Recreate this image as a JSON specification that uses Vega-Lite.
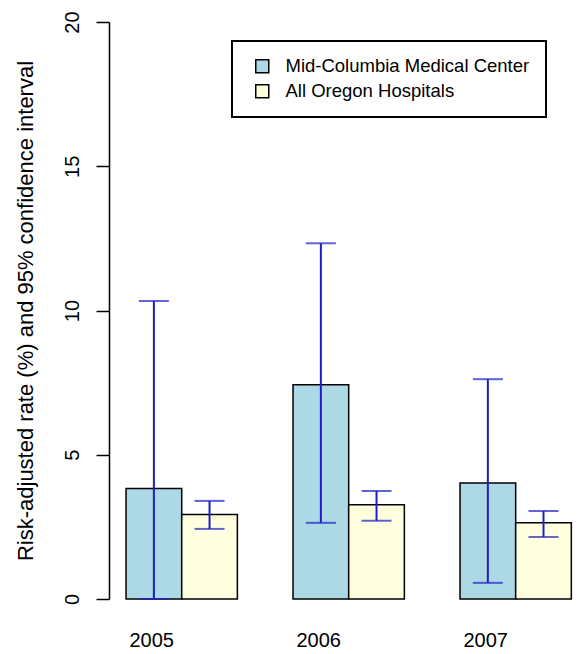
{
  "$schema": "https://vega.github.io/schema/vega-lite/v6.json",
  "width": 470,
  "height": 577,
  "autosize": "none",
  "padding": {"left": 109, "top": 22, "right": 0, "bottom": 55},
  "background": "white",
  "config": {
    "view": {"stroke": null},
    "font": "Liberation Sans",
    "axis": {"labelFont": "Liberation Sans", "titleFont": "Liberation Sans", "labelColor": "black", "titleColor": "black"}
  },
  "data": {
    "values": [
      {"year": "2005", "series": "Mid-Columbia Medical Center", "rate": 3.83, "lower": 0.0, "upper": 10.33},
      {"year": "2005", "series": "All Oregon Hospitals", "rate": 2.93, "lower": 2.43, "upper": 3.40},
      {"year": "2006", "series": "Mid-Columbia Medical Center", "rate": 7.43, "lower": 2.64, "upper": 12.33},
      {"year": "2006", "series": "All Oregon Hospitals", "rate": 3.27, "lower": 2.71, "upper": 3.74},
      {"year": "2007", "series": "Mid-Columbia Medical Center", "rate": 4.02, "lower": 0.56, "upper": 7.62},
      {"year": "2007", "series": "All Oregon Hospitals", "rate": 2.64, "lower": 2.15, "upper": 3.05}
    ]
  },
  "encoding": {
    "x": {
      "field": "year", "type": "nominal",
      "scale": {"paddingInner": 0.3333, "paddingOuter": 0.074, "align": 0.69},
      "axis": {"title": null, "domain": false, "ticks": false, "labelAngle": 0, "labelFontSize": 20, "labelPadding": 31, "labelOffset": -30}
    },
    "xOffset": {
      "field": "series", "type": "nominal",
      "scale": {"domain": ["Mid-Columbia Medical Center", "All Oregon Hospitals"], "paddingInner": 0, "paddingOuter": 0}
    }
  },
  "layer": [
    {
      "mark": {"type": "bar", "stroke": "black", "strokeWidth": 1.5},
      "encoding": {
        "y": {
          "field": "rate", "type": "quantitative",
          "scale": {"domain": [0, 20], "nice": false},
          "axis": {
            "title": "Risk-adjusted rate (%) and 95% confidence interval",
            "titleFontSize": 22, "titleFontWeight": "normal",
            "titleBaseline": "alphabetic", "titleX": -77, "titleY": 288.5, "titleAngle": -90, "titleAlign": "center",
            "values": [0, 5, 10, 15, 20], "grid": false,
            "labelAngle": -90, "labelFontSize": 20, "labelPadding": 14,
            "tickSize": 13, "tickColor": "black", "tickWidth": 1.5,
            "domainColor": "black", "domainWidth": 1.5
          }
        },
        "fill": {
          "field": "series", "type": "nominal",
          "scale": {"domain": ["Mid-Columbia Medical Center", "All Oregon Hospitals"], "range": ["#ADD8E6", "#FFFFE0"]},
          "legend": {
            "orient": "none", "legendX": 123, "legendY": 19, "title": null,
            "symbolType": "square", "symbolSize": 169, "symbolStrokeColor": "black", "symbolStrokeWidth": 1.5,
            "labelFontSize": 18.5, "labelFont": "Liberation Sans", "labelColor": "black", "labelLimit": 0,
            "padding": 16, "symbolOffset": 5, "labelOffset": 14, "rowPadding": 5,
            "strokeColor": "black", "fillColor": "white",
            "encode": {"legend": {"update": {"strokeWidth": {"value": 2}}}}
          }
        }
      }
    },
    {
      "mark": {"type": "rule", "color": "#1e1ec8", "strokeWidth": 2},
      "encoding": {
        "y": {"field": "lower", "type": "quantitative"},
        "y2": {"field": "upper"}
      }
    },
    {
      "mark": {"type": "tick", "color": "#1e1ec8", "size": 30, "thickness": 2},
      "encoding": {"y": {"field": "lower", "type": "quantitative"}}
    },
    {
      "mark": {"type": "tick", "color": "#1e1ec8", "size": 30, "thickness": 2},
      "encoding": {"y": {"field": "upper", "type": "quantitative"}}
    }
  ]
}
